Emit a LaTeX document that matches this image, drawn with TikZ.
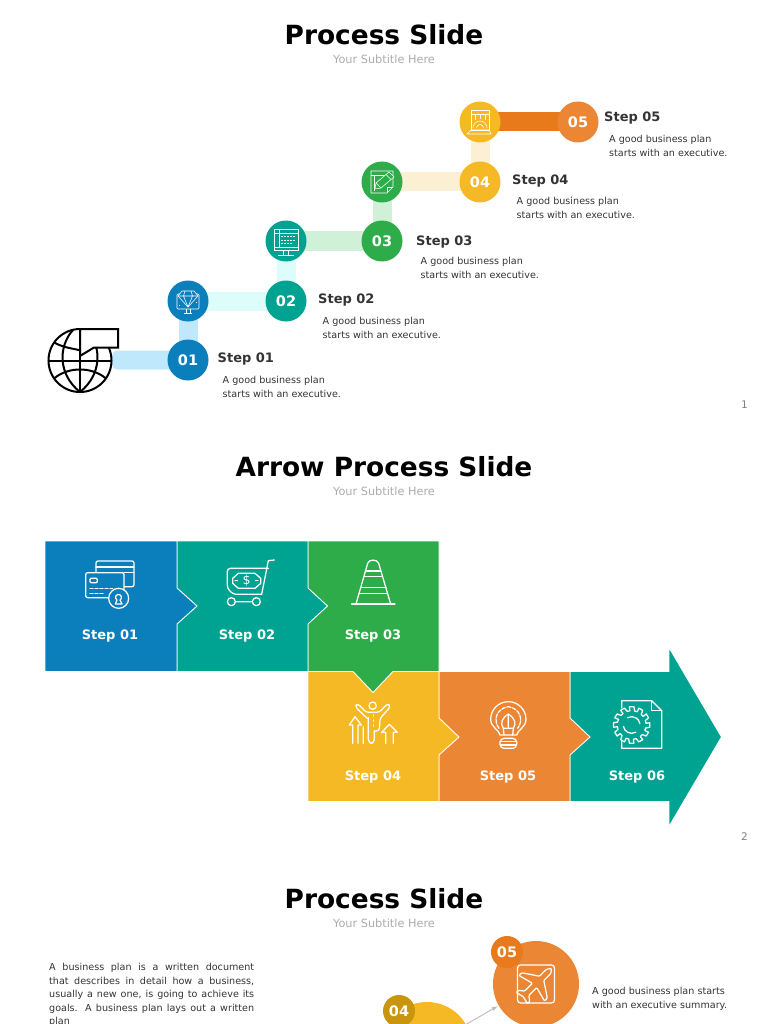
\documentclass[tikz,border=0pt]{standalone}
\usepackage{fontspec}
\setmainfont{DejaVu Sans}
\usetikzlibrary{calc,backgrounds}
\definecolor{cblue}{HTML}{0A7FBC}
\definecolor{cteal}{HTML}{00A391}
\definecolor{cgreen}{HTML}{2FAC4A}
\definecolor{cyellow}{HTML}{F6B926}
\definecolor{corange}{HTML}{EB8634}
\definecolor{cdorange}{HTML}{E97A1B}
\definecolor{cdyellow}{HTML}{C9950C}
\definecolor{lblue}{HTML}{C0E8FC}
\definecolor{lcyan}{HTML}{DDFDFB}
\definecolor{lgreen}{HTML}{D0F0D8}
\definecolor{lcream}{HTML}{FCF0D4}
\definecolor{ctext}{HTML}{333333}
\definecolor{csub}{HTML}{ABABAB}
\tikzset{
 titletext/.style={font=\fontsize{26.4}{32}\selectfont\bfseries,text=black,inner sep=0pt},
 subtext/.style={font=\fontsize{11.3}{14}\selectfont,text=csub,inner sep=0pt},
 pagenum/.style={font=\fontsize{10.5}{12}\selectfont,text=gray,inner sep=0pt},
 dot/.style={circle,minimum size=41pt,inner sep=0pt,font=\fontsize{14.5}{16}\selectfont\bfseries,text=white},
 bar/.style={line width=19pt},
 steptext/.style={font=\fontsize{13}{15}\selectfont\bfseries,text=ctext,anchor=west,inner sep=0pt},
 desctext/.style={font=\fontsize{9.6}{14}\selectfont,text=ctext,anchor=north west,inner sep=0pt,align=left},
 boxlabel/.style={font=\fontsize{13}{15}\selectfont\bfseries,text=white,inner sep=0pt},
 boxshape/.style={draw=white,line width=.9pt,line join=miter},
 ico/.style={draw=white,line width=1.25pt,line join=round,line cap=round},
 sico/.style={draw=white,line width=.55pt,line join=round},
 zoomed/.style={x=.33333pt,y=-.33333pt},
 globeline/.style={draw=black,line width=2pt},
}
\begin{document}
\begin{tikzpicture}[x=1pt,y=-1pt]
\useasboundingbox (0,0) rectangle (768,1024);
\clip (0,0) rectangle (768,1024);
% ---- titles
\node[titletext] (t1) at (384,35) {Process Slide};
\node[subtext] (st1) at (384,59) {Your Subtitle Here};
\node[pagenum] (p1) at (744.5,405) {1};
\node[titletext] (t2) at (384,467) {Arrow Process Slide};
\node[subtext] (st2) at (384,491) {Your Subtitle Here};
\node[pagenum] (p2) at (744.5,837) {2};
\node[titletext] (t3) at (384,899) {Process Slide};
\node[subtext] (st3) at (384,923) {Your Subtitle Here};

% ---- slide 1 circles
\node[dot,fill=cblue] (s1) at (188,360) {01};
\node[dot,fill=cteal] (s2) at (286,301) {02};
\node[dot,fill=cgreen] (s3) at (382,241) {03};
\node[dot,fill=cyellow] (s4) at (480,182) {04};
\node[dot,fill=corange] (s5) at (578,122) {05};
\node[dot,fill=cblue] (i1) at (188,301) {};
\node[dot,fill=cteal] (i2) at (286,241) {};
\node[dot,fill=cgreen] (i3) at (382,182) {};
\node[dot,fill=cyellow] (i4) at (480,122) {};
\node[circle,minimum size=64pt,inner sep=0pt] (globe) at (80,360.5) {};
\begin{scope}[on background layer]
\fill[lblue,rounded corners=5pt] ($(globe.east)+(0,-10)$) rectangle ($(s1.center)+(0,9.5)$);
\draw[bar,lblue] (s1.center) -- (i1.center);
\draw[bar,lcyan] (i1.center) -- (s2.center);
\draw[bar,lcyan] (s2.center) -- (i2.center);
\draw[bar,lgreen] (i2.center) -- (s3.center);
\draw[bar,lgreen] (s3.center) -- (i3.center);
\draw[bar,lcream] (i3.center) -- (s4.center);
\draw[bar,lcream] (s4.center) -- (i4.center);
\draw[bar,cdorange] (i4.center) -- (s5.center);
\end{scope}

% globe
\begin{scope}[shift={(80,360.5)}]
\draw[globeline] (0,0) circle (31.5);
\draw[globeline] (-7,-30.5) .. controls (-22,-14) and (-22,14) .. (0,31.5);
\draw[globeline] (0,31.5) .. controls (22,14) and (22,-14) .. (7,-30.5);
\draw[globeline] (0,-31.5) -- (0,31.5);
\draw[globeline] (-31.5,0) -- (31.5,0);
\draw[globeline] (-26,18) .. controls (-12,6) and (12,6) .. (26,18);
\draw[globeline] (-26,-18) .. controls (-15,-12) and (-5,-12) .. (0,-10);
\end{scope}
\filldraw[globeline,fill=white,line join=miter] (80,329) -- (118,329) -- (118,347.5) -- (94,347.5) -- (80,356) -- cycle;

% small icons
\begin{scope}[shift={(i1.center)}]
\draw[sico,rounded corners=1pt] (-11,-7) rectangle (11,8);
\draw[sico] (-4,12) -- (4,12) (-2,8) -- (-2,12) (2,8) -- (2,12);
\filldraw[sico,fill=cblue] (-6,-10) -- (6,-10) -- (10,-5) -- (0,6) -- (-10,-5) -- cycle;
\draw[sico] (-10,-5) -- (10,-5) (-3,-10) -- (-4.5,-5) -- (0,6) -- (4.5,-5) -- (3,-10);
\draw[sico] (-9,4) -- (-8,4) (8,1) -- (9,1);
\end{scope}
\begin{scope}[shift={(i2.center)}]
\draw[sico] (-12,-12) rectangle (12,9) (-12,6) -- (12,6) (-7,-12) -- (-7,6) (-12,-8) -- (12,-8);
\draw[sico] (-8,14) -- (8,14) (-2.5,9) -- (-2.5,14) (2.5,9) -- (2.5,14);
\draw[sico,dash pattern=on 1.5pt off 1.5pt] (-5,-4.5) -- (10,-4.5) (-5,-1) -- (10,-1) (-5,2.5) -- (7,2.5);
\end{scope}
\begin{scope}[shift={(i3.center)}]
\draw[sico] (-11,-11) -- (11,-11) -- (11,5) -- (5,11) -- (-11,11) -- cycle;
\draw[sico] (11,5) -- (5,5) -- (5,11) (-11,-7) -- (11,-7) (-8,-7) -- (-8,9);
\filldraw[sico,fill=cgreen] (-7,7) -- (-6,1) -- (7,-10) -- (12,-5) -- (-1,6) -- cycle;
\draw[sico] (-6,1) -- (-1,6) (4,-7.5) -- (9,-2.5);
\end{scope}
\begin{scope}[shift={(i4.center)}]
\draw[sico] (-9,-12) rectangle (9,8) (-9,-8) -- (9,-8);
\draw[sico] (-5,-8) -- (-5,-2) (0,-8) -- (0,-3) (5,-8) -- (5,-2);
\filldraw[sico,fill=cyellow] (-7,6) arc (180:360:7);
\draw[sico] (-3.5,6) arc (180:360:3.5);
\draw[sico] (-13,12) -- (-9,8) -- (9,8) -- (11,12) -- cycle;
\end{scope}

% step labels slide 1
\node[steptext] (l1) at (217.5,359.5) {Step 01};
\node[desctext] (d1) at (222.5,376) {A good business plan\\starts with an executive.};
\node[steptext] (l2) at (318,300.5) {Step 02};
\node[desctext] (d2) at (322.5,317) {A good business plan\\starts with an executive.};
\node[steptext] (l3) at (416,242) {Step 03};
\node[desctext] (d3) at (420.5,257.5) {A good business plan\\starts with an executive.};
\node[steptext] (l4) at (512,181.5) {Step 04};
\node[desctext] (d4) at (516.5,197.5) {A good business plan\\starts with an executive.};
\node[steptext] (l5) at (604,118.5) {Step 05};
\node[desctext] (d5) at (609,135) {A good business plan\\starts with an executive.};

% ---- slide 2 shapes (drawn right to left so each point overlaps the next box)
\filldraw[boxshape,fill=cteal] (570,671.5) -- (669,671.5) -- (669,647.5) -- (721.5,737) -- (669,826.5) -- (669,801.5) -- (570,801.5) -- cycle;
\filldraw[boxshape,fill=corange] (439,671.5) -- (570,671.5) -- (570,718) -- (590,737) -- (570,755) -- (570,801.5) -- (439,801.5) -- cycle;
\filldraw[boxshape,fill=cyellow] (308,671.5) -- (439,671.5) -- (439,718) -- (459,737) -- (439,755) -- (439,801.5) -- (308,801.5) -- cycle;
\filldraw[boxshape,fill=cgreen] (308,541) -- (439,541) -- (439,671.5) -- (393,671.5) -- (373,692.5) -- (353,671.5) -- (308,671.5) -- cycle;
\filldraw[boxshape,fill=cteal] (177,541) -- (308,541) -- (308,588) -- (327.5,606) -- (308,624) -- (308,671.5) -- (177,671.5) -- cycle;
\filldraw[boxshape,fill=cblue] (45,541) -- (177,541) -- (177,588) -- (197,606) -- (177,624) -- (177,671.5) -- (45,671.5) -- cycle;

\node[boxlabel] (b1) at (110,636.5) {Step 01};
\node[boxlabel] (b2) at (247,636.5) {Step 02};
\node[boxlabel] (b3) at (373,636.5) {Step 03};
\node[boxlabel] (b4) at (373,777.5) {Step 04};
\node[boxlabel] (b5) at (508,777.5) {Step 05};
\node[boxlabel] (b6) at (637,777.5) {Step 06};

% card icon
\begin{scope}[shift={(40,535)},zoomed]
\draw[ico,rounded corners=2pt] (168,78) rectangle (282,155);
\draw[ico] (168,96) -- (282,96) (252,112) -- (282,112);
\filldraw[ico,fill=cblue,rounded corners=2pt] (137,113) rectangle (252,188);
\draw[ico,rounded corners=1pt] (150,130) rectangle (172,143);
\draw[ico,dash pattern=on 3pt off 2pt] (150,160) -- (218,160) (150,175) -- (195,175);
\filldraw[ico,fill=cblue] (236,190) circle (30);
\draw[ico] (226,207) -- (231,195) arc (120:420:9) -- (246,207) -- cycle;
\end{scope}
% cart icon
\begin{scope}[shift={(40,535)},zoomed]
\draw[ico,rounded corners=3pt] (685,100) -- (562,100) -- (562,160) -- (580,178) -- (665,178);
\draw[ico] (703,75) -- (685,77) -- (665,178);
\draw[ico] (595,115) -- (645,115) -- (662,130) -- (662,145) -- (645,160) -- (595,160) -- (578,145) -- (578,130) -- cycle;
\node[font=\fontsize{12.5}{13}\selectfont,text=white,inner sep=0pt] (dollar) at (620,138) {- \$ -};
\draw[ico] (574,200) circle (12) (649,200) circle (12) (586,200) -- (637,200);
\end{scope}
% cone icon
\begin{scope}[shift={(40,535)},zoomed]
\draw[ico] (935,207) -- (1065,207);
\draw[ico] (948,207) -- (983,85) .. controls (986,72) and (1012,72) .. (1016,85) -- (1052,207);
\draw[ico] (976,108) -- (1023,108) (972,124) -- (1028,124) (962,158) -- (1038,158) (957,175) -- (1043,175);
\end{scope}
% person icon
\begin{scope}[shift={(340,695)},zoomed]
\draw[ico] (98,32) circle (11);
\draw[ico,rounded corners=3pt] (82,70) -- (45,35) -- (53,25) -- (78,52) -- (118,52) -- (143,25) -- (152,35) -- (120,70) -- (118,108) -- (103,108);
\draw[ico,rounded corners=4pt] (85,68) -- (85,145) -- (103,145) -- (103,108);
\draw[ico,dash pattern=on 1pt off 4pt] (100,60) -- (100,95);
\draw[ico] (28,90) -- (45,65) -- (64,90) -- (54,90) -- (54,145) (28,90) -- (38,90) -- (38,145) (70,95) -- (70,145);
\draw[ico] (125,112) -- (148,88) -- (172,112) -- (160,112) -- (160,145) (125,112) -- (137,112) -- (137,145);
\end{scope}
% bulb icon
\begin{scope}[shift={(300,640)},zoomed]
\draw[ico] (600,285) .. controls (598,270) and (572,262) .. (572,238) arc (180:360:53) .. controls (678,262) and (652,270) .. (650,285) -- cycle;
\draw[ico,rounded corners=4pt] (600,295) rectangle (650,325);
\draw[ico] (600,305) -- (650,305) (603,315) -- (647,315);
\draw[ico,dash pattern=on 4pt off 1.5pt] (597,265) .. controls (578,240) and (590,205) .. (625,200) .. controls (660,205) and (672,240) .. (653,265);
\draw[ico] (625,222) .. controls (605,235) and (600,250) .. (610,265) -- (640,265) .. controls (650,250) and (645,235) .. (625,222) -- cycle;
\draw[ico] (625,222) -- (625,262) (610,265) -- (612,285) (640,265) -- (638,285);
\end{scope}
% document gear icon
\begin{scope}[shift={(300,640)},zoomed]
\draw[ico,line cap=butt] (965,205) -- (965,182) -- (1055,182) -- (1085,212) -- (1085,325) -- (965,325) -- (965,300);
\draw[ico] (1055,182) -- (1055,212) -- (1085,212);
\coordinate (gc) at (995,255);
\filldraw[ico,fill=cteal] ($(gc)+(83:55)$)
 \foreach \a in {0,30,...,330} { -- ($(gc)+(90+\a-7:55)$) -- ($(gc)+(90+\a+7:55)$) -- ($(gc)+(90+\a+12:43)$) -- ($(gc)+(90+\a+23:43)$) } -- cycle;
\draw[ico] ($(gc)+(60:25)$) arc (60:170:25);
\draw[ico] ($(gc)+(240:25)$) arc (240:350:25);
\end{scope}

% ---- slide 3
\node[circle,minimum size=86pt,inner sep=0pt,fill=corange] (c5) at (536,984) {};
\node[circle,minimum size=90pt,inner sep=0pt,fill=cyellow] (c4) at (427,1047) {};
\node[dot,minimum size=32pt,fill=cdorange] (n5) at (507,952) {05};
\node[dot,minimum size=32pt,fill=cdyellow] (n4) at (399,1011) {04};
\draw[-latex,draw=lightgray,line width=1pt,shorten >=1pt] (c4) -- (c5);
\begin{scope}[shift={(536,984)}]
\draw[ico,rounded corners=3pt] (-18.5,-19) rectangle (18.5,19);
\begin{scope}[rotate=45]
\draw[ico,rounded corners=1pt] (22,0) -- (18,-3) -- (8,-3) -- (-2,-18) -- (-6,-18) -- (-2,-3) -- (-13,-3) -- (-17,-8) -- (-20,-8) -- (-18,0) -- (-20,8) -- (-17,8) -- (-13,3) -- (-2,3) -- (-6,18) -- (-2,18) -- (8,3) -- (18,3) -- cycle;
\end{scope}
\end{scope}
\node[desctext,anchor=north west] (d6) at (592,986.5) {A good business plan starts\\with an executive summary.};
\node[font=\fontsize{9.6}{13.6}\selectfont,text=ctext,anchor=north west,inner sep=0pt,align=left] (para) at (49,963) {\frenchspacing
\makebox[205pt][s]{A business plan is a written document}\\
\makebox[205pt][s]{that describes in detail how a business,}\\
\makebox[205pt][s]{usually a new one, is going to achieve its}\\
\makebox[205pt][s]{goals. A business plan lays out a written}\\
plan};
\end{tikzpicture}
\end{document}
